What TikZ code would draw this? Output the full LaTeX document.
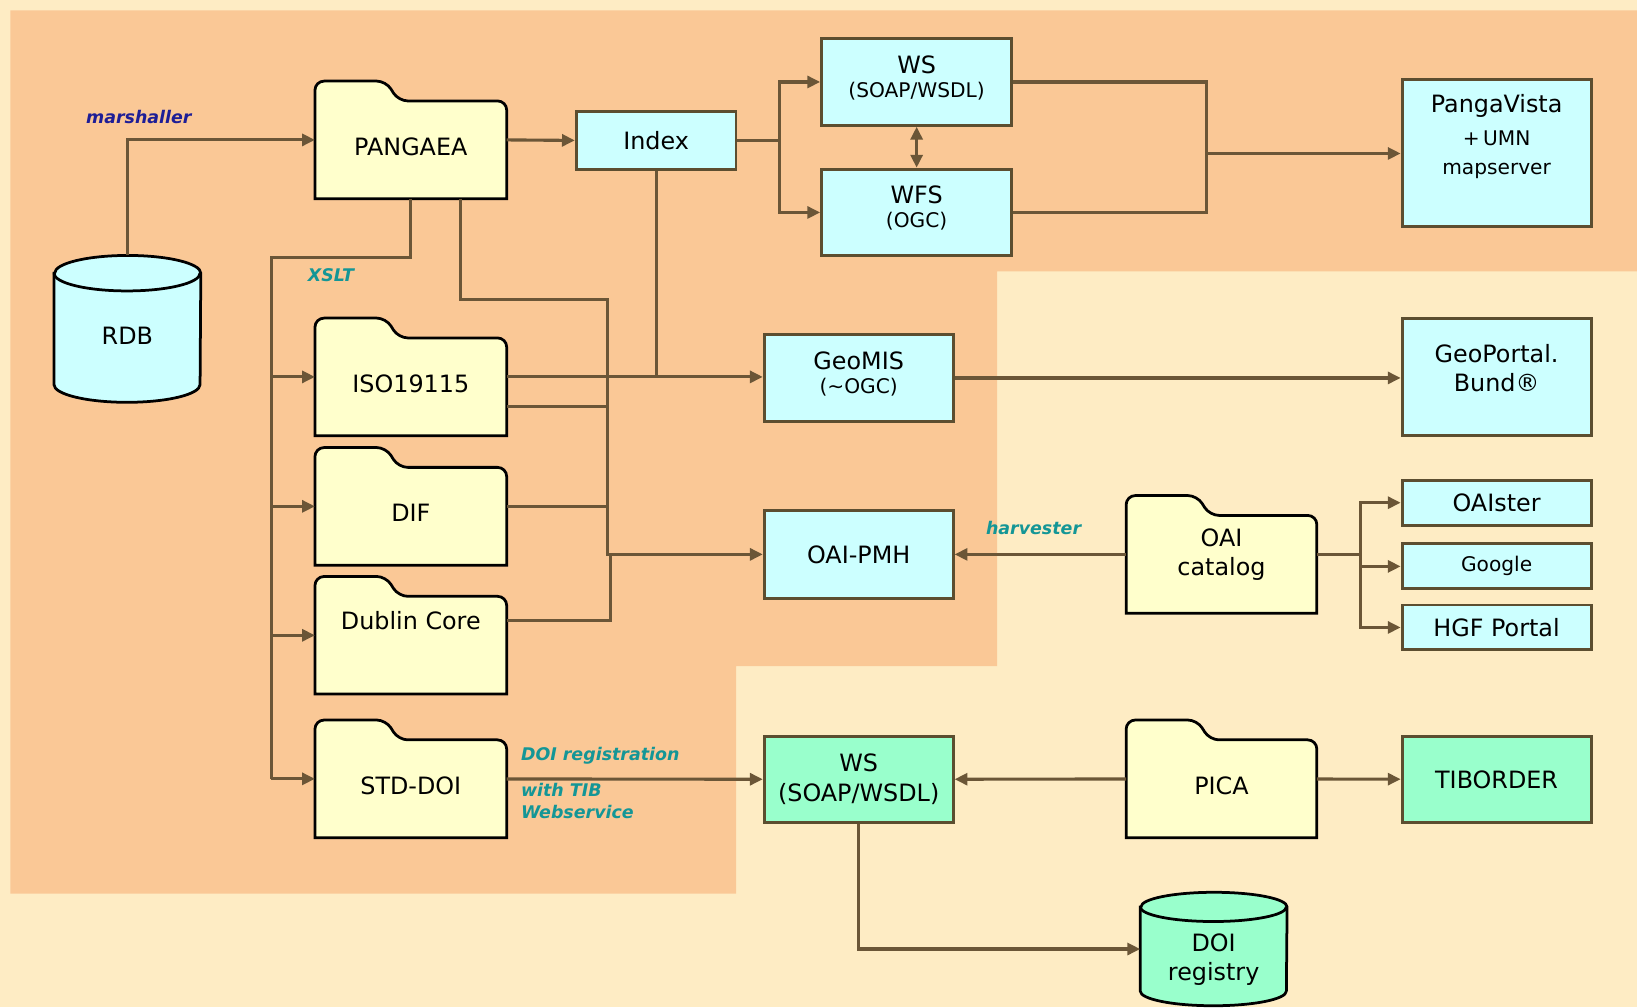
\documentclass[tikz,border=0pt]{standalone}
\usepackage{fontspec}
\setmainfont{DejaVu Sans}
\usetikzlibrary{arrows.meta,calc}

\definecolor{paper}{RGB}{254,236,196}
\definecolor{zone}{RGB}{250,200,150}
\definecolor{boxblue}{RGB}{204,255,255}
\definecolor{boxgreen}{RGB}{153,255,204}
\definecolor{folderfill}{RGB}{255,255,204}
\definecolor{boxline}{RGB}{92,78,48}
\definecolor{wirecol}{RGB}{107,86,55}
\definecolor{navylabel}{RGB}{30,30,150}
\definecolor{teallabel}{RGB}{20,150,150}

\pgfdeclarelayer{ground}
\pgfdeclarelayer{shapes}
\pgfsetlayers{ground,shapes,main}

\newcommand{\subline}{\fontsize{11}{13}\selectfont}

% folder outline drawn behind node #1 (node covers tab + body)
\newcommand{\folderoutline}[1]{%
  \begin{pgfonlayer}{shapes}
    \filldraw[foldershape] (#1.south west) [rounded corners=5pt] -- (#1.north west)
      -- ($(#1.north west)+(68,0)$) -- ($(#1.north west)+(80,19)$)
      -- ($(#1.north east)+(0,19)$) [sharp corners] -- (#1.south east) -- cycle;
  \end{pgfonlayer}}

% database can behind node #1, fill #2, ellipse y radius #3 (px)
\newcommand{\canoutline}[3]{%
  \begin{pgfonlayer}{shapes}
    \filldraw[canshape, fill=#2] ($(#1.north west)+(0,#3)$) -- ($(#1.south west)+(0,-#3)$)
      arc[start angle=180, end angle=360, x radius=1.4cm, y radius=#3*0.02cm]
      -- ($(#1.north east)+(0,#3)$)
      arc[start angle=0, end angle=180, x radius=1.4cm, y radius=#3*0.02cm] -- cycle;
    \draw[canshape] ($(#1.north west)+(0,#3)$)
      arc[start angle=180, end angle=360, x radius=1.4cm, y radius=#3*0.02cm];
  \end{pgfonlayer}}

\tikzset{
  wire/.style={draw=wirecol, line width=1.7pt},
  conn/.style={wire, -{Triangle[length=7pt,width=6.5pt]}},
  dconn/.style={wire, {Triangle[length=7pt,width=6.5pt]}-{Triangle[length=7pt,width=6.5pt]}},
  infobox/.style={draw=boxline, line width=1.6pt, fill=boxblue, align=center, inner sep=2pt,
    font=\fontsize{13}{16}\selectfont},
  greenbox/.style={infobox, fill=boxgreen},
  folder/.style={minimum width=3.66cm, minimum height=2.24cm, align=center, inner sep=0pt,
    font=\fontsize{13}{16}\selectfont},
  lowtext/.style={text height=17pt, text depth=0pt},
  foldershape/.style={draw=black, line width=1.5pt, fill=folderfill},
  can/.style={minimum width=2.8cm, align=center, inner sep=0pt, font=\fontsize{13}{16}\selectfont},
  canshape/.style={draw=black, line width=1.5pt},
  tag/.style={font=\fontsize{9.5}{12}\selectfont\bfseries\itshape, text=teallabel, inner sep=1pt},
}

\begin{document}
\begin{tikzpicture}[x=0.02cm, y=-0.02cm]
  \useasboundingbox (0,0) rectangle (1568,965);

  % Background areas
  \begin{pgfonlayer}{ground}
    \fill[paper] (0,0) rectangle (1568,965);
    \fill[zone] (10,10) -- (1568,10) -- (1568,260) -- (955,260) -- (955,638)
      -- (705,638) -- (705,856) -- (10,856) -- cycle;
  \end{pgfonlayer}

  % Databases
  \node[can, lowtext, minimum height=2.8cm] (rdb) at (122,315) {RDB};
  \node[can, minimum height=2.16cm] (doireg) at (1162.5,909) {\rule{0pt}{21pt}DOI\\registry};
  \canoutline{rdb}{boxblue}{17}
  \canoutline{doireg}{boxgreen}{14}

  % Folders
  \node[folder, lowtext] (pangaea) at (393.5,134) {PANGAEA};
  \node[folder, lowtext] (iso) at (393.5,361) {ISO19115};
  \node[folder, lowtext] (dif) at (393.5,485) {DIF};
  \node[folder, text depth=16pt] (dublin) at (393.5,608.5) {Dublin Core};
  \node[folder, lowtext] (stddoi) at (393.5,746) {STD-DOI};
  \node[folder, minimum width=3.64cm] (oaicat) at (1170,531) {OAI\\catalog};
  \node[folder, lowtext, minimum width=3.64cm] (pica) at (1170,746) {PICA};
  \foreach \f in {pangaea,iso,dif,dublin,stddoi,oaicat,pica}
    \folderoutline{\f};

  % Services
  \node[infobox, minimum width=3.06cm, minimum height=1.1cm] (index) at (628.5,134.5) {Index};
  \node[infobox, minimum width=3.64cm, minimum height=1.66cm] (wstop) at (878,78.5)
    {WS\\[-3pt]{\subline (SOAP/WSDL)}\\[-10pt]\mbox{}};
  \node[infobox, minimum width=3.64cm, minimum height=1.66cm] (wfs) at (878,203.5)
    {WFS\\[-3pt]{\subline (OGC)}\\[-10pt]\mbox{}};
  \node[infobox, minimum width=3.62cm, minimum height=2.82cm] (pangavista) at (1433.5,146.5)
    {PangaVista\\[2pt]{\subline +\,UMN}\\{\subline mapserver}\\[4pt]\mbox{}};
  \node[infobox, minimum width=3.62cm, minimum height=1.68cm] (geomis) at (822.5,362)
    {GeoMIS\\[-3pt]{\subline (\textasciitilde OGC)}\\[-10pt]\mbox{}};
  \node[infobox, minimum width=3.62cm, minimum height=2.24cm] (geoportal) at (1433.5,361)
    {GeoPortal.\\Bund®\\[-6pt]\mbox{}};
  \node[infobox, minimum width=3.62cm, minimum height=1.68cm] (oaipmh) at (822.5,531) {OAI-PMH};
  \node[infobox, minimum width=3.62cm, minimum height=0.86cm] (oaister) at (1433.5,481.5) {OAIster};
  \node[infobox, minimum width=3.62cm, minimum height=0.86cm] (google) at (1433.5,542.5)
    {\subline Google};
  \node[infobox, minimum width=3.62cm, minimum height=0.86cm] (hgf) at (1433.5,601) {HGF Portal};
  \node[greenbox, minimum width=3.62cm, minimum height=1.66cm] (wsdoi) at (822.5,746.5)
    {WS\\(SOAP/WSDL)};
  \node[greenbox, minimum width=3.62cm, minimum height=1.66cm] (tiborder) at (1433.5,746.5) {TIBORDER};

  % Labels
  \node[tag, text=navylabel] (marsh) at (133,112) {marshaller};
  \node[tag] (xslt) at (317,264) {XSLT};
  \node[tag] (harv) at (990,506) {harvester};
  \node[tag, anchor=west] (doitag) at (497,724) {DOI registration};
  \node[tag, anchor=north west, align=left] (tibtag) at (497,748) {with TIB\\Webservice};

  % Export chain
  \draw[conn] (rdb.north) |- (pangaea.west);
  \draw[conn] (pangaea.east) -- (index.west);
  \draw[wire] (index.east) -- ++(40,0) coordinate (fork);
  \draw[conn] (fork) |- (wstop.west);
  \draw[conn] (fork) |- (wfs.west);
  \draw[dconn] (wstop) -- (wfs);
  \coordinate (join) at (1156,147);
  \draw[wire] (wstop.east) -| (join) |- (wfs.east);
  \draw[conn] (join) -- (join -| pangavista.west);

  % XSLT bus
  \coordinate (bus) at (260,247);
  \draw[wire] (pangaea.south) |- (bus) -- (bus |- stddoi.west);
  \foreach \f in {iso,dif,dublin,stddoi}
    \draw[conn] (bus |- \f.west) -- (\f.west);

  % Metadata to portals
  \coordinate (oaibus) at (582,287);
  \draw[conn] ($(pangaea.south)+(48,0)$) |- (oaibus) |- (oaipmh.west);
  \draw[wire] (index.south) -- (index.south |- geomis.west);
  \draw[conn] (iso.east) -- (iso.east -| geomis.west);
  \draw[wire] ($(iso.east)+(0,28)$) -- ($(iso.east -| oaibus)+(0,28)$);
  \draw[wire] (dif.east) -- (dif.east -| oaibus);
  \draw[wire] ($(dublin.east)+(0,-14)$) -| ($(oaibus |- oaipmh.west)+(3,0)$);
  \draw[conn] (geomis.east) -- (geomis.east -| geoportal.west);
  \draw[conn] (oaicat) -- (oaipmh);
  \draw[wire] (oaicat.east) -- ++(42,0) coordinate (fan);
  \foreach \t in {oaister,google,hgf}
    \draw[conn] (fan) |- (\t.west);

  % DOI registration
  \draw[conn] (stddoi) -- (wsdoi);
  \draw[conn] (pica) -- (wsdoi);
  \draw[conn] (pica) -- (tiborder);
  \draw[conn] (wsdoi.south) |- (doireg.west);
\end{tikzpicture}
\end{document}
